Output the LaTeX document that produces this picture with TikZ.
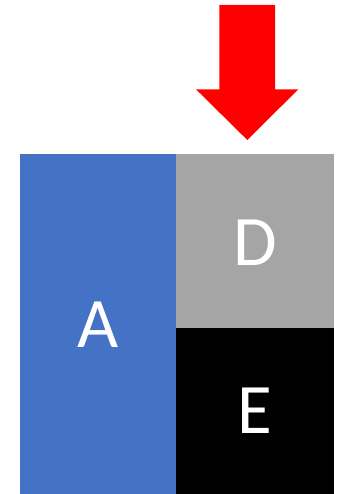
\documentclass[tikz,border=0pt]{standalone}
\usepackage{fontspec}
\setmainfont{Carlito}
\definecolor{blockblue}{HTML}{4472C4}
\definecolor{blockgray}{HTML}{A5A5A5}
\definecolor{arrowred}{HTML}{FF0000}
\begin{document}
\begin{tikzpicture}[x=1pt,y=-1pt,
  blocklabel/.style={text=white,font=\fontsize{71}{71}\selectfont,inner sep=0pt,anchor=center}]
\useasboundingbox (0,0) rectangle (344,494);
\fill[blockblue] (19.5,154) rectangle (175.7,494);
\fill[blockgray] (175.7,154) rectangle (334.3,328.3);
\fill[black] (175.7,328.3) rectangle (334.3,494);
\node[blocklabel] (a) at (98.5,324.5) {A};
\node[blocklabel] (d) at (255,242.5) {D};
\node[blocklabel] (e) at (255,410.5) {E};
\fill[arrowred] (219.3,5) -- (275,5) -- (275,89.3) -- (298.3,89.3) -- (247.3,140) -- (196,89.3) -- (219.3,89.3) -- cycle;
\end{tikzpicture}
\end{document}
